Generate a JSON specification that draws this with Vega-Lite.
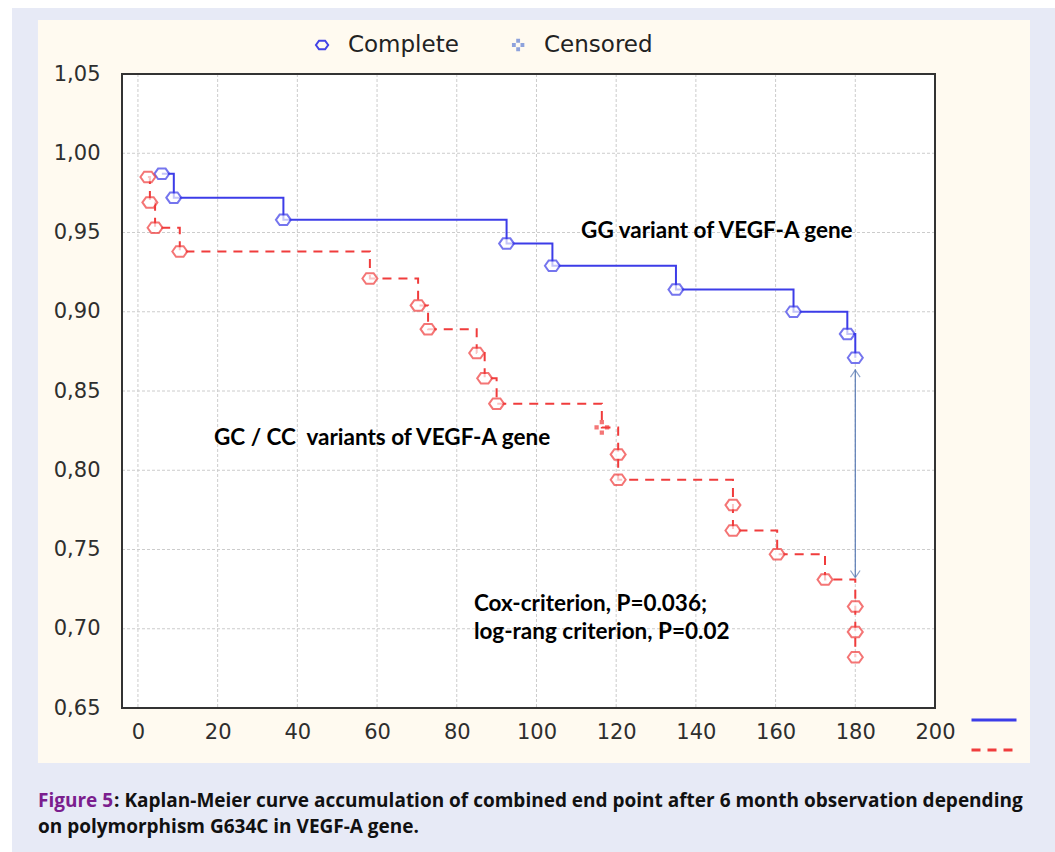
{
  "$schema": "https://vega.github.io/schema/vega-lite/v6.json",
  "width": 813,
  "height": 634,
  "autosize": {"type": "none"},
  "padding": {"left": 122, "top": 74, "right": 120, "bottom": 144},
  "background": "#ffffff",
  "config": {
    "view": {"stroke": null},
    "axis": {"domain": false, "ticks": false, "grid": false, "title": null, "labelFont": "DejaVu Sans", "labelFontSize": 21, "labelColor": "#2e2e2e", "labelFlush": false, "labelOverlap": false, "labelBound": false}
  },
  "data": {"values": [{"one": 1}]},
  "datasets": {
    "km": [
      {"g": "GG", "t": 6, "s": 0.987, "st": "Complete"},
      {"g": "GG", "t": 9, "s": 0.972, "st": "Complete"},
      {"g": "GG", "t": 36.5, "s": 0.958, "st": "Complete"},
      {"g": "GG", "t": 92.5, "s": 0.943, "st": "Complete"},
      {"g": "GG", "t": 104, "s": 0.929, "st": "Complete"},
      {"g": "GG", "t": 135, "s": 0.914, "st": "Complete"},
      {"g": "GG", "t": 164.5, "s": 0.9, "st": "Complete"},
      {"g": "GG", "t": 178, "s": 0.886, "st": "Complete"},
      {"g": "GG", "t": 180, "s": 0.871, "st": "Complete"},
      {"g": "GC/CC", "t": 2.5, "s": 0.985, "st": "Complete"},
      {"g": "GC/CC", "t": 3, "s": 0.969, "st": "Complete"},
      {"g": "GC/CC", "t": 4.3, "s": 0.953, "st": "Complete"},
      {"g": "GC/CC", "t": 10.5, "s": 0.938, "st": "Complete"},
      {"g": "GC/CC", "t": 58.2, "s": 0.921, "st": "Complete"},
      {"g": "GC/CC", "t": 70.3, "s": 0.904, "st": "Complete"},
      {"g": "GC/CC", "t": 72.8, "s": 0.889, "st": "Complete"},
      {"g": "GC/CC", "t": 85, "s": 0.874, "st": "Complete"},
      {"g": "GC/CC", "t": 87, "s": 0.858, "st": "Complete"},
      {"g": "GC/CC", "t": 90, "s": 0.842, "st": "Complete"},
      {"g": "GC/CC", "t": 116.4, "s": 0.827, "st": "Censored"},
      {"g": "GC/CC", "t": 120.5, "s": 0.81, "st": "Complete"},
      {"g": "GC/CC", "t": 120.5, "s": 0.794, "st": "Complete"},
      {"g": "GC/CC", "t": 149.3, "s": 0.778, "st": "Complete"},
      {"g": "GC/CC", "t": 149.3, "s": 0.762, "st": "Complete"},
      {"g": "GC/CC", "t": 160.4, "s": 0.747, "st": "Complete"},
      {"g": "GC/CC", "t": 172.4, "s": 0.731, "st": "Complete"},
      {"g": "GC/CC", "t": 180, "s": 0.714, "st": "Complete"},
      {"g": "GC/CC", "t": 180, "s": 0.698, "st": "Complete"},
      {"g": "GC/CC", "t": 180, "s": 0.682, "st": "Complete"}
    ],
    "legendkey": [
      {"st": "Complete", "t": 46.2, "lt": 52.7, "s": 1.0683, "c": "#4242e6"},
      {"st": "Censored", "t": 95.4, "lt": 101.9, "s": 1.0683, "c": "#8ea2dc"}
    ],
    "gridx": [{"v": 0}, {"v": 20}, {"v": 40}, {"v": 60}, {"v": 80}, {"v": 100}, {"v": 120}, {"v": 140}, {"v": 160}, {"v": 180}],
    "gridy": [{"v": 0.7}, {"v": 0.75}, {"v": 0.8}, {"v": 0.85}, {"v": 0.9}, {"v": 0.95}, {"v": 1.0}]
  },
  "layer": [
    {
      "mark": {"type": "rect", "fill": "#e7eaf6"},
      "encoding": {
        "x": {"datum": -31.6, "type": "quantitative", "scale": {"domain": [-4, 200], "nice": false, "zero": false},
              "axis": {"values": [0, 20, 40, 60, 80, 100, 120, 140, 160, 180, 200], "labelPadding": 13, "zindex": 1}},
        "x2": {"datum": 240},
        "y": {"datum": 1.0916, "type": "quantitative", "scale": {"domain": [0.65, 1.05], "nice": false, "zero": false},
              "axis": {"values": [0.65, 0.7, 0.75, 0.8, 0.85, 0.9, 0.95, 1.0, 1.05], "labelPadding": 22, "zindex": 1,
                       "labelExpr": "replace(format(datum.value, '.2f'), '.', ',')"}},
        "y2": {"datum": 0.5}
      }
    },
    {
      "mark": {"type": "rect", "fill": "#fffaf0"},
      "encoding": {
        "x": {"datum": -25.09, "type": "quantitative"},
        "x2": {"datum": 223.84},
        "y": {"datum": 1.0841, "type": "quantitative"},
        "y2": {"datum": 0.6153}
      }
    },
    {
      "mark": {"type": "rect", "fill": "#ffffff"},
      "encoding": {
        "x": {"datum": -4, "type": "quantitative"},
        "x2": {"datum": 200},
        "y": {"datum": 0.65, "type": "quantitative"},
        "y2": {"datum": 1.05}
      }
    },
    {
      "data": {"name": "gridx"},
      "mark": {"type": "rule", "color": "#cccccc", "strokeWidth": 1, "strokeDash": [3, 2]},
      "encoding": {"x": {"field": "v", "type": "quantitative"}}
    },
    {
      "data": {"name": "gridy"},
      "mark": {"type": "rule", "color": "#cccccc", "strokeWidth": 1, "strokeDash": [3, 2]},
      "encoding": {"y": {"field": "v", "type": "quantitative"}}
    },
    {
      "data": {"name": "km"},
      "mark": {"type": "line", "interpolate": "step-after", "strokeWidth": 2},
      "encoding": {
        "x": {"field": "t", "type": "quantitative"},
        "y": {"field": "s", "type": "quantitative"},
        "order": {"field": "s", "sort": "descending"},
        "color": {"field": "g", "type": "nominal",
                  "scale": {"domain": ["GG", "GC/CC"], "range": ["#3c3ce8", "#f03c3c"]},
                  "legend": {"title": null, "orient": "none", "legendX": 848, "legendY": 622, "symbolType": "stroke", "symbolSize": 2025, "symbolStrokeWidth": 3, "labelExpr": "''", "rowPadding": -5}},
        "strokeDash": {"field": "g", "type": "nominal",
                       "scale": {"domain": ["GG", "GC/CC"], "range": [[1, 0], [9, 7]]},
                       "legend": {"title": null, "orient": "none", "legendX": 848, "legendY": 622, "symbolType": "stroke", "symbolSize": 2025, "symbolStrokeWidth": 3, "labelExpr": "''", "rowPadding": -5}}
      }
    },
    {
      "data": {"name": "km"},
      "mark": {"type": "point", "filled": true, "fill": "white", "strokeWidth": 2, "size": 225},
      "encoding": {
        "x": {"field": "t", "type": "quantitative"},
        "y": {"field": "s", "type": "quantitative"},
        "stroke": {"field": "g", "type": "nominal",
                   "scale": {"domain": ["GG", "GC/CC"], "range": ["#3c3ce8", "#f03c3c"]}, "legend": null},
        "shape": {"field": "st", "type": "nominal",
                  "scale": {"domain": ["Complete", "Censored"],
                            "range": ["M-1,0L-0.5,-0.7L0.5,-0.7L1,0L0.5,0.7L-0.5,0.7Z",
                                      "M-0.15,-0.85h0.3v0.3h-0.3z M-0.85,-0.15h0.3v0.3h-0.3z M0.55,-0.15h0.3v0.3h-0.3z M-0.15,0.55h0.3v0.3h-0.3z"]},
                  "legend": null}
      }
    },
    {
      "data": {"name": "legendkey"},
      "mark": {"type": "point", "filled": false, "strokeWidth": 2, "size": 150, "opacity": 1},
      "encoding": {
        "x": {"field": "t", "type": "quantitative"},
        "y": {"field": "s", "type": "quantitative"},
        "shape": {"field": "st", "type": "nominal", "legend": null},
        "stroke": {"field": "c", "type": "nominal", "scale": null}
      }
    },
    {
      "data": {"name": "legendkey"},
      "mark": {"type": "text", "font": "DejaVu Sans", "fontSize": 23, "align": "left", "baseline": "middle", "color": "#222222"},
      "encoding": {
        "x": {"field": "lt", "type": "quantitative"},
        "y": {"field": "s", "type": "quantitative"},
        "text": {"field": "st"}
      }
    },
    {
      "mark": {"type": "rule", "color": "#5a7cb4", "strokeWidth": 1.2},
      "encoding": {
        "x": {"datum": 180, "type": "quantitative"},
        "y": {"datum": 0.8635, "type": "quantitative"},
        "y2": {"datum": 0.7325}
      }
    },
    {
      "mark": {"type": "point", "shape": "M-0.8,0.6L0,-0.6L0.8,0.6", "filled": false, "stroke": "#5a7cb4", "strokeWidth": 1.2, "size": 144},
      "encoding": {"x": {"datum": 180, "type": "quantitative"}, "y": {"datum": 0.861, "type": "quantitative"}}
    },
    {
      "mark": {"type": "point", "shape": "M-0.8,-0.6L0,0.6L0.8,-0.6", "filled": false, "stroke": "#5a7cb4", "strokeWidth": 1.2, "size": 144},
      "encoding": {"x": {"datum": 180, "type": "quantitative"}, "y": {"datum": 0.7345, "type": "quantitative"}}
    },
    {
      "mark": {"type": "rect", "fill": "transparent", "stroke": "#333333", "strokeWidth": 2},
      "encoding": {
        "x": {"datum": -4, "type": "quantitative"},
        "x2": {"datum": 200},
        "y": {"datum": 0.65, "type": "quantitative"},
        "y2": {"datum": 1.05}
      }
    },
    {
      "mark": {"type": "text", "font": "Lato", "fontWeight": "bold", "fontSize": 22.5, "align": "left", "baseline": "middle", "color": "#000000"},
      "encoding": {"x": {"datum": 111.2, "type": "quantitative"}, "y": {"datum": 0.9509, "type": "quantitative"}, "text": {"value": "GG variant of VEGF-A gene"}}
    },
    {
      "mark": {"type": "text", "font": "Lato", "fontWeight": "bold", "fontSize": 22.5, "align": "left", "baseline": "middle", "color": "#000000"},
      "encoding": {"x": {"datum": 19.07, "type": "quantitative"}, "y": {"datum": 0.8203, "type": "quantitative"}, "text": {"value": "GC / CC\u00a0 variants of VEGF-A gene"}}
    },
    {
      "mark": {"type": "text", "font": "Lato", "fontWeight": "bold", "fontSize": 22.5, "align": "left", "baseline": "middle", "color": "#000000"},
      "encoding": {"x": {"datum": 84.3, "type": "quantitative"}, "y": {"datum": 0.7156, "type": "quantitative"}, "text": {"value": "Cox-criterion, P=0.036;"}}
    },
    {
      "mark": {"type": "text", "font": "Lato", "fontWeight": "bold", "fontSize": 22.5, "align": "left", "baseline": "middle", "color": "#000000"},
      "encoding": {"x": {"datum": 84.3, "type": "quantitative"}, "y": {"datum": 0.698, "type": "quantitative"}, "text": {"value": "log-rang criterion, P=0.02"}}
    },
    {
      "mark": {"type": "text", "font": "Open Sans", "fontWeight": "bold", "fontSize": 19, "align": "left", "baseline": "middle", "color": "#7b1e8e"},
      "encoding": {"x": {"datum": -25.09, "type": "quantitative"}, "y": {"datum": 0.5913, "type": "quantitative"}, "text": {"value": "Figure 5"}}
    },
    {
      "mark": {"type": "text", "font": "Open Sans", "fontWeight": "bold", "fontSize": 19, "align": "left", "baseline": "middle", "color": "#111111"},
      "encoding": {"x": {"datum": -6.0, "type": "quantitative"}, "y": {"datum": 0.5913, "type": "quantitative"}, "text": {"value": ": Kaplan-Meier curve accumulation of combined end point after 6 month observation depending"}}
    },
    {
      "mark": {"type": "text", "font": "Open Sans", "fontWeight": "bold", "fontSize": 19, "align": "left", "baseline": "middle", "color": "#111111"},
      "encoding": {"x": {"datum": -25.09, "type": "quantitative"}, "y": {"datum": 0.5749, "type": "quantitative"}, "text": {"value": "on polymorphism G634C in VEGF-A gene."}}
    }
  ]
}
